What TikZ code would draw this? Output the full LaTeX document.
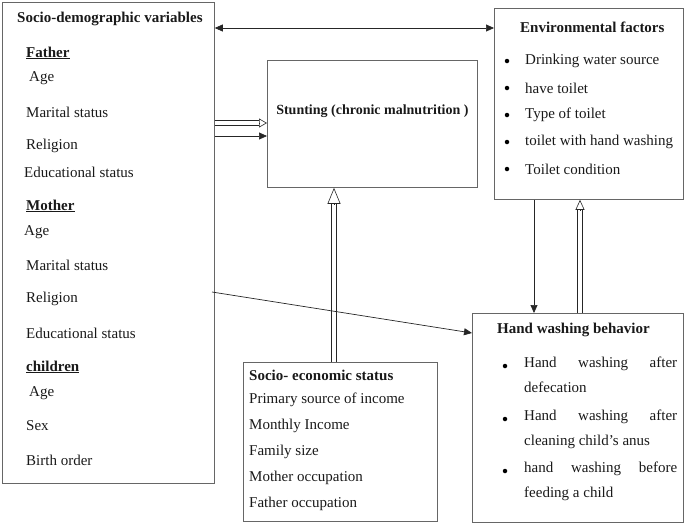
\documentclass[tikz,border=0pt]{standalone}
\usepackage{fontspec}
\setmainfont{Liberation Serif}
\usetikzlibrary{arrows.meta,calc}

\tikzset{
  box/.style={draw=black!60, line width=0.8pt, inner sep=0pt, anchor=north west},
  txt/.style={anchor=west, inner sep=0pt, text=black!90, font=\fontsize{15}{25}\selectfont},
  hd/.style={txt, font=\fontsize{15}{25}\selectfont\bfseries},
  dot/.style={circle, fill=black, inner sep=0pt, minimum size=4.5pt},
  ln/.style={line width=0.7pt, black!85},
  tip/.style={-{Triangle[length=8pt,width=7pt]}},
  dbl/.style={draw=black!85, line width=0.6pt, double=white, double distance=4pt},
}

% hollow (double line) arrow: length of head, width of head, from, to
\newcommand\hollowarr[4]{%
  \draw[dbl, shorten >=#1] (#3) -- (#4);
  \draw[ln, line width=0.6pt, -{Triangle[open,length=#1,width=#2]}] ($(#4)!#1!(#3)$) -- (#4);}

\begin{document}
\begin{tikzpicture}[x=1pt,y=-1pt]
    \useasboundingbox (0,0) rectangle (685,523);

    % boxes
    \node[box, minimum width=212pt, minimum height=481pt] (demo) at (2,2) {};
    \node[box, minimum width=210pt, minimum height=127pt] (stunt) at (267,60) {};
    \node[box, minimum width=189pt, minimum height=191pt] (env) at (494,8) {};
    \node[box, minimum width=211pt, minimum height=209pt] (hand) at (472,313) {};
    \node[box, minimum width=194pt, minimum height=159pt] (socio) at (243,362) {};

    % socio-demographic variables
    \node[hd] (demoT) at (17,19) {Socio-demographic variables};
    \node[hd] (fa) at (26,53) {\underline{Father}};
    \node[hd] (mo) at (26,206) {\underline{Mother}};
    \node[hd] (ch) at (26,367) {\underline{children}};
    \node[txt] (fa1) at (29,78) {Age};
    \node[txt] (fa2) at (26,112) {Marital status};
    \node[txt] (fa3) at (26,146) {Religion};
    \node[txt] (fa4) at (24,172) {Educational status};
    \node[txt] (mo1) at (24,232) {Age};
    \node[txt] (mo2) at (26,265) {Marital status};
    \node[txt] (mo3) at (26,299) {Religion};
    \node[txt] (mo4) at (26,333) {Educational status};
    \node[txt] (ch1) at (29,393) {Age};
    \node[txt] (ch2) at (26,426) {Sex};
    \node[txt] (ch3) at (26,460) {Birth order};

    % stunting
    \node[hd, anchor=center, font=\fontsize{14}{18}\selectfont\bfseries] (stuntT) at (stunt.center |- 0,111) {Stunting (chronic malnutrition )};

    % environmental factors
    \node[hd] (envT) at (520,27) {Environmental factors};
    \foreach \t [count=\i] in {Drinking water source, have toilet, Type of toilet,
                               toilet with hand washing, Toilet condition} {
      \node[dot] (envB\i) at (507,34+27*\i) {};
      \node[txt] (env\i) at (525,34+27*\i) {\t};
    }

    % socio-economic status
    \node[hd] (socioT) at (249,375) {Socio- economic status};
    \foreach \t [count=\i] in {Primary source of income, Monthly Income, Family size,
                               Mother occupation, Father occupation}
      \node[txt] (socio\i) at (249,374+26*\i) {\t};

    % hand washing behavior
    \node[hd] (handT) at (497,330) {Hand washing behavior};
    \node[dot] (handB1) at (505,366) {};
    \node[dot] (handB2) at (505,419) {};
    \node[dot] (handB3) at (505,471) {};
    \node[txt, anchor=north west, align=left] (hand1) at (524,357)
      {\makebox[153pt][s]{Hand washing after}\\defecation};
    \node[txt, anchor=north west, align=left] (hand2) at (524,410)
      {\makebox[153pt][s]{Hand washing after}\\cleaning child’s anus};
    \node[txt, anchor=north west, align=left] (hand3) at (524,462)
      {\makebox[153pt][s]{hand washing before}\\feeding a child};

    % connectors
    \draw[ln, {Triangle[length=8pt,width=7pt]}-{Triangle[length=8pt,width=7pt]}]
      (demo.east |- 0,28) -- (env.west |- 0,28);
    \coordinate (d1) at (demo.east |- 0,123);
    \coordinate (s1) at (stunt.west |- 0,123);
    \hollowarr{8pt}{9pt}{d1}{s1}
    \draw[ln, tip] (demo.east |- 0,136) -- (stunt.west |- 0,136);
    \coordinate (e1) at (socio.north -| 334,0);
    \coordinate (s2) at (stunt.south -| 334,0);
    \hollowarr{16pt}{13pt}{e1}{s2}
    \draw[ln, tip] (env.south -| 534,0) -- (hand.north -| 534,0);
    \coordinate (h1) at (hand.north -| 580,0);
    \coordinate (v1) at (env.south -| 580,0);
    \hollowarr{10pt}{9pt}{h1}{v1}
    \draw[ln, tip] (212,292) -- (hand.west |- 0,333);

\end{tikzpicture}
\end{document}
